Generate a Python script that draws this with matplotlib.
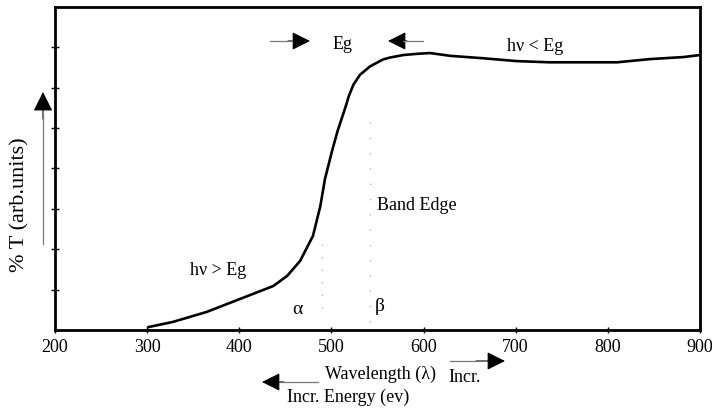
import numpy as np
import matplotlib
matplotlib.use("Agg")
import matplotlib.pyplot as plt
from matplotlib.patches import FancyArrowPatch

plt.rcParams['font.family'] = ['Liberation Serif', 'DejaVu Serif']

# curve (wavelength nm, %T in arb. units)
wavelength = [301, 328, 365, 401, 437, 452, 466, 480, 488, 493, 501, 507,
              515, 519, 524, 531, 542, 556, 564, 578, 593, 607, 629, 665, 701,
              737, 773, 810, 846, 882, 900]
trans = [0.07, 0.20, 0.45, 0.77, 1.09, 1.34, 1.71, 2.33, 3.07, 3.74, 4.46, 4.95,
         5.50, 5.80, 6.08, 6.32, 6.53, 6.70, 6.75, 6.81, 6.84, 6.86, 6.79, 6.73,
         6.66, 6.63, 6.63, 6.63, 6.71, 6.76, 6.81]
xticks = [200, 300, 400, 500, 600, 700, 800, 900]
yticks = [1, 2, 3, 4, 5, 6, 7]
alpha_x = 490
beta_x = 542

fig = plt.figure(figsize=(7.12, 4.10), dpi=100)
ax = fig.add_axes([0.0772, 0.1927, 0.9059, 0.7878])

ax.plot(wavelength, trans, color='black', lw=1.9, solid_joinstyle='round',
        solid_capstyle='round')
ax.plot([alpha_x, alpha_x], [0.55, 2.4], color='#bbbbbb', lw=1, ls=(0, (1, 8)))
ax.plot([beta_x, beta_x], [0.2, 5.2], color='#bbbbbb', lw=1, ls=(0, (1, 10)))

ax.set_xlim(200, 900)
ax.set_ylim(0, 8)
ax.set_xticks(xticks)
ax.set_xticklabels([str(t) for t in xticks], fontsize=13)
ax.set_yticks(yticks)
ax.set_yticklabels([])
ax.tick_params(axis='y', direction='inout', length=6, width=1)
ax.tick_params(axis='x', direction='inout', length=4, width=1, pad=4)
for s in ax.spines.values():
    s.set_linewidth(2)

ax.text(512, 7.1, 'Eg', fontsize=13, ha='center', va='center')
ax.text(721, 7.05, 'h\u03bd < Eg', fontsize=13, ha='center', va='center')
ax.text(593, 3.1, 'Band Edge', fontsize=13, ha='center', va='center')
ax.text(377, 1.5, 'h\u03bd > Eg', fontsize=13, ha='center', va='center')
ax.text(463, 0.52, '\u03b1', fontsize=14, ha='center', va='center')
ax.text(553, 0.6, '\u03b2', fontsize=14, ha='center', va='center')


def px(x, y):
    # figure fraction from pixel position measured from the top left
    return (x / 712, 1 - y / 410)


def arrow(x0, y0, x1, y1, ms=28):
    fig.add_artist(FancyArrowPatch(px(x0, y0), px(x1, y1),
                                   transform=fig.transFigure,
                                   arrowstyle='-|>', mutation_scale=ms,
                                   lw=0.8, color='black', shrinkA=0, shrinkB=0))


def tail(x0, y0, x1, y1):
    fig.add_artist(plt.Line2D([x0 / 712, x1 / 712], [1 - y0 / 410, 1 - y1 / 410],
                              transform=fig.transFigure, color='#777777', lw=0.9))


tail(270, 42, 292, 42)
arrow(288, 42, 310, 42)
tail(423, 42, 403, 42)
arrow(407, 42, 388, 42)
tail(450, 362, 480, 362)
arrow(476, 362, 505, 362)
tail(318, 383, 280, 383)
arrow(284, 383, 262, 383)
tail(43, 245, 43, 115)
arrow(43, 120, 43, 93, ms=30)

fig.text(20 / 712, 1 - 205 / 410, '% T (arb.units)', rotation=90,
         fontsize=16, ha='center', va='center')
fig.text(325 / 712, 1 - 374 / 410, 'Wavelength (\u03bb)', fontsize=13,
         ha='left', va='center')
fig.text(448 / 712, 1 - 378 / 410, 'Incr.', fontsize=13, ha='left', va='center')
fig.text(287 / 712, 1 - 397 / 410, 'Incr. Energy (ev)', fontsize=13,
         ha='left', va='center')

fig.savefig('out.png', dpi=100)
